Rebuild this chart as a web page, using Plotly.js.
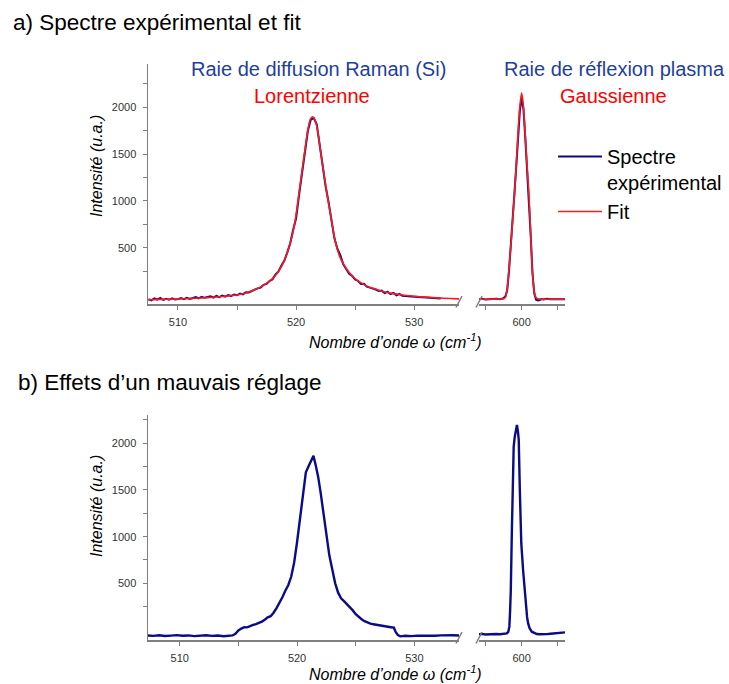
<!DOCTYPE html>
<html>
<head>
<meta charset="utf-8">
<script src="https://cdn.plot.ly/plotly-3.0.1.min.js"></script>
<style>html,body{margin:0;padding:0;background:#fff}#chart{width:729px;height:684px}</style>
</head>
<body>
<div id="chart"></div>
<script>
// ---- Data ----
// a) Raman line (Si), experimental spectrum
const xRamanExp = [507.5,507.75,508.0,508.25,508.5,508.75,509.0,509.25,509.5,509.75,510.0,510.25,510.5,510.75,511.0,511.25,511.5,511.75,512.0,512.25,512.5,512.75,513.0,513.25,513.5,513.75,514.0,514.25,514.5,514.75,515.0,515.25,515.5,515.75,516.0,516.25,516.5,516.75,517.0,517.25,517.5,517.75,518.0,518.25,518.5,518.75,519.0,519.25,519.5,519.75,520.0,520.25,520.5,520.75,521.0,521.25,521.5,521.75,522.0,522.25,522.5,522.75,523.0,523.25,523.5,523.75,524.0,524.25,524.5,524.75,525.0,525.25,525.5,525.75,526.0,526.25,526.5,526.75,527.0,527.25,527.5,527.75,528.0,528.25,528.5,528.75,529.0,529.25,529.5,529.75,530.0,530.25,530.5,530.75,531.0,531.25,531.5,531.75,532.0,532.25];
const yRamanExp = [-50,-62,-42,-55,-36,-58,-45,-56,-40,-52,-49,-38,-50,-35,-46,-33,-28,-40,-24,-35,-27,-19,-32,-15,-27,-10,-22,-5,-16,1,-8,10,2,24,22,40,52,66,74,104,114,145,162,212,244,308,360,448,545,690,812,1060,1300,1540,1750,1870,1885,1820,1580,1400,1160,990,780,600,490,420,322,278,222,200,160,145,112,114,84,74,66,54,38,42,16,30,4,18,-8,6,-14,-12,-18,-22,-24,-26,-28,-30,-32,-33,-34,-38,-36,-42];
// a) Raman line, Lorentzian fit
const xRamanFit = [507.5,508.5,509.5,510.5,511.5,512.5,513.5,514.5,515.0,515.5,516.0,516.5,517.0,517.5,518.0,518.5,519.0,519.5,519.9,520.3,520.7,521.0,521.2,521.4,521.6,521.8,522.0,522.3,522.6,522.9,523.3,523.7,524.0,524.5,525.0,525.5,526.0,526.5,527.0,527.5,528.0,529.0,530.0,531.0,532.0,533.0,533.8];
const yRamanFit = [-55,-52,-49,-45,-40,-33,-24,-12,-4,8,28,52,82,120,170,245,360,545,770,1130,1500,1760,1870,1900,1865,1770,1600,1340,1090,870,580,405,330,235,170,125,90,66,45,28,15,-5,-18,-28,-36,-42,-46];
// a) Plasma line, experimental spectrum
const xPlasmaExp = [588.2,589,590,591,592,593,594,594.5,595,595.5,596,596.5,597,597.5,598,598.5,599,599.5,600,600.5,601,601.5,602,602.5,603,603.5,604,604.5,605,605.5,606,607,608,609,610,611,612];
const yPlasmaExp = [-50,-46,-52,-48,-51,-45,-49,-44,-38,-20,45,250,500,800,1080,1360,1700,1960,2100,1980,1680,1350,1040,640,230,10,-55,-62,-58,-48,-52,-46,-50,-47,-52,-49,-50];
// a) Plasma line, Gaussian fit
const xPlasmaFit = [588.2,590,592,594,595,595.5,596,596.5,597,597.5,598,598.5,599,599.5,600,600.5,601,601.5,602,602.5,603,603.5,604,604.5,605,606,608,610,612];
const yPlasmaFit = [-50,-50,-49,-48,-45,-30,60,270,520,790,1060,1380,1730,2010,2156,2010,1700,1380,1080,650,230,30,-35,-46,-49,-50,-50,-50,-50];
// b) Misaligned setup: Raman line
const xRamanBad = [507.3,507.75,508.25,508.75,509.25,509.75,510.25,510.75,511.25,511.75,512.25,512.75,513.25,513.75,514.25,514.5,514.75,515.0,515.25,515.5,515.75,516.0,516.25,516.5,516.75,517.0,517.25,517.5,517.75,518.0,518.25,518.5,518.75,519.0,519.25,519.5,519.75,520.0,520.25,520.5,520.75,521.0,521.2,521.4,521.6,521.8,522.0,522.25,522.5,522.6,522.75,523.0,523.25,523.5,523.75,524.0,524.25,524.5,524.75,525.0,525.25,525.5,525.75,526.0,526.25,526.5,526.75,527.0,527.25,527.5,527.75,528.0,528.25,528.4,528.6,528.8,529.25,529.75,530.25,530.75,531.25,531.75,532.25,532.75,533.25,533.8];
const yRamanBad = [-58,-63,-57,-64,-60,-55,-62,-58,-65,-60,-56,-63,-59,-66,-61,-58,-40,-5,15,30,28,45,55,62,75,90,110,135,148,185,235,290,350,420,480,570,720,940,1180,1430,1690,1760,1810,1865,1760,1640,1480,1250,990,940,800,650,500,400,340,310,280,245,210,170,140,115,95,80,68,62,58,52,48,42,38,30,25,-20,-55,-68,-62,-66,-60,-63,-58,-62,-57,-60,-56,-58];
// b) Misaligned setup: plasma line
const xPlasmaBad = [588.2,589,590,591,592,593,594,595,595.9,596.3,596.6,596.8,597.0,597.3,597.8,598.1,598.7,599.0,599.2,599.5,599.9,600.4,600.8,601.2,601.5,601.8,602.2,602.8,603.5,604.2,605,606,607,608,608.7,609.5,610.6,611.3,612];
const yPlasmaBad = [-46,-42,-48,-44,-47,-43,-46,-41,-36,-20,36,200,428,1071,1964,2071,2196,2120,2035,1500,930,643,420,250,140,71,20,-18,-35,-43,-45,-47,-44,-40,-36,-38,-25,-28,-25];

// tick labels
const xLeftTicks = [510, 520, 530];
const xLeftMinor = [515, 525];
const xRightTicks = [600];
const xRightMinor = [590, 610];
const yTicks = [500, 1000, 1500, 2000];
const yMinor = [250, 750, 1250, 1750, 2250];

// ---- Layout helpers ----
const W = 729, H = 684;
const px = v => v / W;
const py = v => 1 - v / H;
const FONT = 'Liberation Sans, Arial, Helvetica, sans-serif';
const AX = '#7f7f7f';
const BLUE_LINE = '#0b0b85';
const RED_LINE = '#ff1a1a';
const BLUE_TXT = '#1f3f9c';
const RED_TXT = '#ff0000';

function xAxis(domain, range, tickvals, minorvals, anchor) {
  return {
    domain: domain, range: range, anchor: anchor,
    showline: true, linecolor: AX, linewidth: 1.5,
    ticks: 'outside', ticklen: 4, tickwidth: 1, tickcolor: AX,
    tickvals: tickvals, ticktext: tickvals.map(String),
    minor: {tickvals: minorvals, ticks: 'outside', ticklen: 4, tickwidth: 1, tickcolor: AX, showgrid: false},
    showgrid: false, zeroline: false, ticklabelstandoff: 3,
    tickfont: {family: FONT, size: 11, color: '#333'}
  };
}
function yAxis(domain, range, anchor) {
  return {
    domain: domain, range: range, anchor: anchor,
    showline: true, linecolor: AX, linewidth: 1.5,
    ticks: 'outside', ticklen: 4, tickwidth: 1, tickcolor: AX,
    tickvals: yTicks, ticktext: yTicks.map(String),
    minor: {tickvals: yMinor, ticks: 'outside', ticklen: 4, tickwidth: 1, tickcolor: AX, showgrid: false},
    showgrid: false, zeroline: false, ticklabelstandoff: 4,
    tickfont: {family: FONT, size: 11, color: '#333'}
  };
}

const leftDom = [px(148), px(459)];
const rightDom = [px(479), px(565)];
const topDom = [py(304), py(64)];
const botDom = [py(640), py(415)];

const traces = [
  {x: xRamanExp, y: yRamanExp, xaxis: 'x', yaxis: 'y', mode: 'lines', name: 'Spectre<br>expérimental', legendgroup: 'exp',
   line: {color: BLUE_LINE, width: 2}},
  {x: xPlasmaExp, y: yPlasmaExp, xaxis: 'x2', yaxis: 'y', mode: 'lines', showlegend: false, legendgroup: 'exp',
   line: {color: BLUE_LINE, width: 2}},
  {x: xRamanFit, y: yRamanFit, xaxis: 'x', yaxis: 'y', mode: 'lines', name: 'Fit', legendgroup: 'fit',
   line: {color: RED_LINE, width: 1.6, shape: 'spline', smoothing: 0.6}},
  {x: xPlasmaFit, y: yPlasmaFit, xaxis: 'x2', yaxis: 'y', mode: 'lines', showlegend: false, legendgroup: 'fit',
   line: {color: RED_LINE, width: 1.6, shape: 'spline', smoothing: 0.6}},
  {x: xRamanBad, y: yRamanBad, xaxis: 'x3', yaxis: 'y2', mode: 'lines', showlegend: false,
   line: {color: BLUE_LINE, width: 2.4}},
  {x: xPlasmaBad, y: yPlasmaBad, xaxis: 'x4', yaxis: 'y2', mode: 'lines', showlegend: false,
   line: {color: BLUE_LINE, width: 2.4}}
];

function slash(x0, yAxisPx) {
  return {type: 'line', xref: 'paper', yref: 'paper',
    x0: px(x0), y0: py(yAxisPx + 3.5), x1: px(x0 + 6), y1: py(yAxisPx - 8),
    line: {color: AX, width: 1.5}};
}

function ann(text, x, y, size, color, extra) {
  return Object.assign({text: text, xref: 'paper', yref: 'paper', x: px(x), y: py(y),
    xanchor: 'center', yanchor: 'middle', showarrow: false,
    font: {family: FONT, size: size, color: color}}, extra || {});
}

const xTitle = '<i>Nombre d’onde ω (cm<sup>-1</sup>)</i>';
const yTitle = '<i>Intensité (u.a.)</i>';

const layout = {
  width: W, height: H,
  margin: {l: 0, r: 0, t: 0, b: 0},
  paper_bgcolor: '#fff', plot_bgcolor: 'rgba(0,0,0,0)',
  font: {family: FONT, color: '#000'},
  xaxis: xAxis(leftDom, [507.46, 533.8], xLeftTicks, xLeftMinor, 'y'),
  xaxis2: xAxis(rightDom, [588.2, 612.0], xRightTicks, xRightMinor, 'y'),
  xaxis3: xAxis(leftDom, [507.3, 533.8], xLeftTicks, xLeftMinor, 'y2'),
  xaxis4: xAxis(rightDom, [588.2, 612.0], xRightTicks, xRightMinor, 'y2'),
  yaxis: yAxis(topDom, [-101, 2463], 'x'),
  yaxis2: yAxis(botDom, [-107, 2303], 'x3'),
  showlegend: true,
  legend: {x: px(553), y: py(137), xanchor: 'left', yanchor: 'top', valign: 'top',
    bgcolor: 'rgba(0,0,0,0)', font: {family: FONT, size: 20, color: '#000'}, tracegroupgap: 0,
    itemwidth: 44},
  shapes: [slash(456, 304), slash(476, 304), slash(456, 640), slash(476, 640)],
  annotations: [
    ann('a) Spectre expérimental et fit', 11, 23, 22.5, '#000', {xanchor: 'left'}),
    ann('b) Effets d’un mauvais réglage', 16, 382, 22.5, '#000', {xanchor: 'left'}),
    ann('Raie de diffusion Raman (Si)', 318, 69, 20, BLUE_TXT),
    ann('Lorentzienne', 312, 96, 20, RED_TXT),
    ann('Raie de réflexion plasma', 614, 69, 20, BLUE_TXT),
    ann('Gaussienne', 613, 96, 20, RED_TXT),
    ann(xTitle, 395, 341, 16, '#000'),
    ann(xTitle, 395, 685, 16, '#000', {yanchor: 'bottom'}),
    ann(yTitle, 96, 166, 16, '#000', {textangle: -90}),
    ann(yTitle, 96, 506, 16, '#000', {textangle: -90})
  ]
};

Plotly.newPlot('chart', traces, layout, {displayModeBar: false, staticPlot: true});
</script>
</body>
</html>
